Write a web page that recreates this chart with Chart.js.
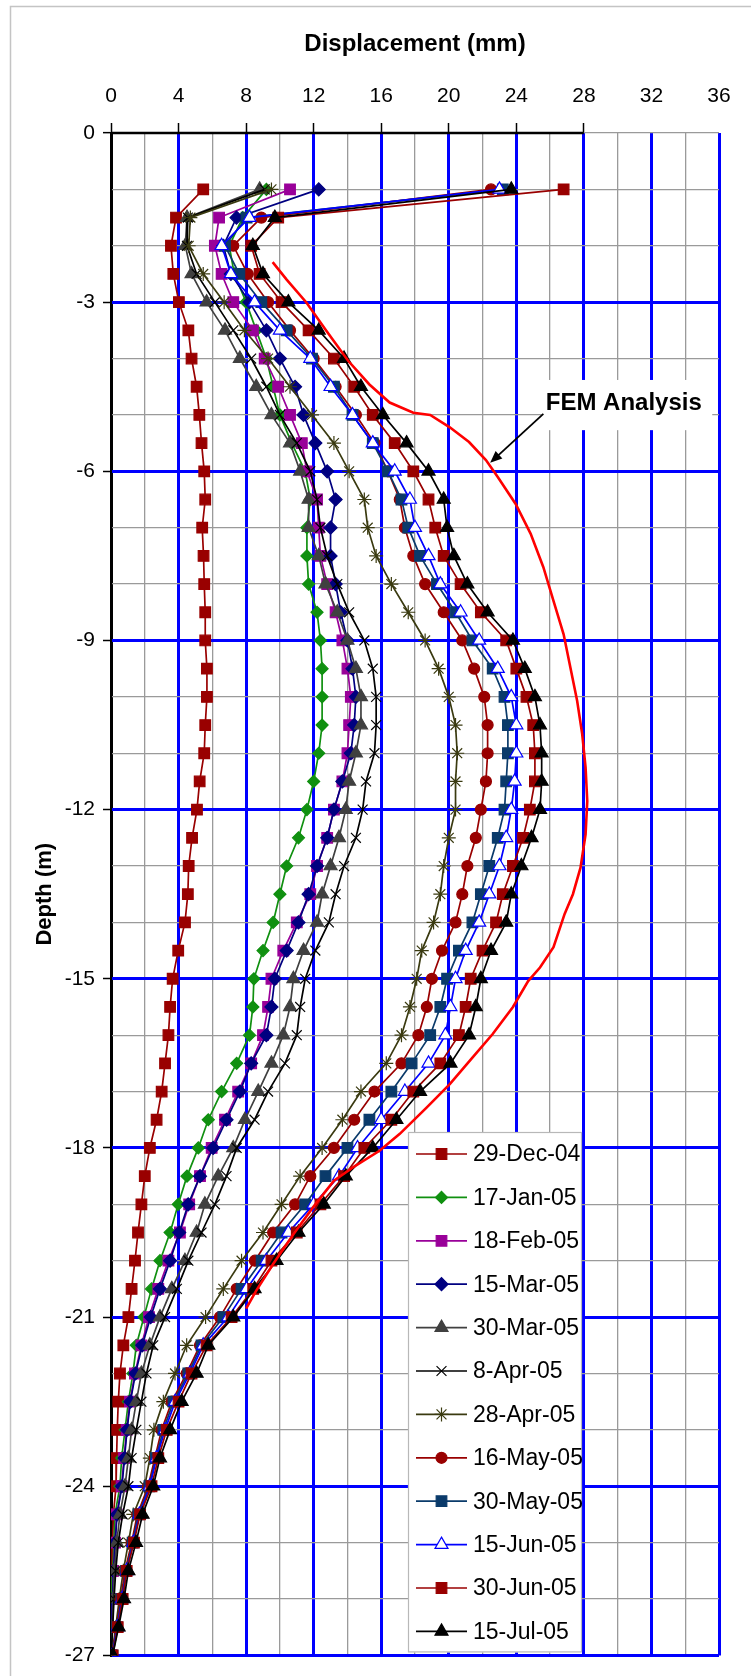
<!DOCTYPE html>
<html><head><meta charset="utf-8">
<script src="https://cdn.jsdelivr.net/npm/chart.js@4.4.1/dist/chart.umd.min.js"></script>
<style>
html,body{margin:0;padding:0;background:#fff;}
canvas{display:block;}
</style></head><body>
<canvas id="c" width="751" height="1676"></canvas>
<script>
// ---------- DATA ----------
const depths = [-1,-1.5,-2,-2.5,-3,-3.5,-4,-4.5,-5,-5.5,-6,-6.5,-7,-7.5,-8,-8.5,-9,-9.5,-10,-10.5,
  -11,-11.5,-12,-12.5,-13,-13.5,-14,-14.5,-15,-15.5,-16,-16.5,-17,-17.5,-18,-18.5,-19,-19.5,-20,-20.5,
  -21,-21.5,-22,-22.5,-23,-23.5,-24,-24.5,-25,-25.5,-26,-26.5,-27];

const dec29 = [5.46,3.85,3.55,3.69,4.02,4.58,4.77,5.07,5.23,5.36, 5.52,5.58,5.40,5.48,5.52,5.58,5.58,5.68,5.68,5.58,
  5.52,5.25,5.09,4.80,4.60,4.55,4.38,3.98,3.65,3.50, 3.40,3.20,3.00,2.70,2.30,2.00,1.80,1.60,1.42,1.22,
  1.03,0.73,0.53,0.43,0.37,0.33,0.30,0.14,0.10,0.06, 0.04,0.02,0.00];
const jan17 = [9.20,7.80,7.00,7.30,8.00,8.60,9.20,9.60,10.0,10.7, 11.5,11.8,11.6,11.6,11.7,12.2,12.4,12.5,12.5,12.5,
  12.3,12.0,11.6,11.1,10.4,10.0,9.60,9.00,8.46,8.40, 8.20,7.44,6.55,5.76,5.17,4.50,3.98,3.50,2.90,2.40,
  1.95,1.50,1.30,1.03,0.83,0.63,0.53,0.24,0.18,0.10, 0.06,0.04,0.00];
const feb18 = [10.6,6.40,6.15,6.55,7.24,8.40,9.10,9.90,10.6,11.3, 11.6,12.2,12.3,12.4,12.8,13.3,13.7,14.0,14.2,14.1,
  14.0,13.7,13.2,12.8,12.2,11.8,11.0,10.2,9.50,9.30, 9.00,8.30,7.53,6.75,5.96,5.27,4.63,4.08,3.40,2.80,
  2.25,1.80,1.42,1.12,0.93,0.77,0.63,0.34,0.24,0.14, 0.10,0.06,0.00];
const mar15 = [12.3,7.43,6.65,7.10,8.20,9.20,10.0,10.9,11.4,12.1, 12.8,13.3,13.0,13.0,13.3,13.6,14.0,14.3,14.5,14.4,
  14.2,13.7,13.2,12.8,12.2,11.7,11.1,10.4,9.70,9.50, 9.20,8.30,7.63,6.84,6.05,5.27,4.57,4.04,3.50,2.90,
  2.35,1.85,1.45,1.15,0.95,0.80,0.65,0.36,0.25,0.15, 0.10,0.06,0.00];
const mar30 = [8.80,4.50,4.40,4.77,5.66,6.75,7.63,8.60,9.50,10.6, 11.2,11.7,11.7,12.3,12.7,13.4,14.0,14.5,14.8,14.8,
  14.5,14.1,13.9,13.5,13.0,12.5,12.2,11.4,10.8,10.6, 10.2,9.50,8.72,7.93,7.24,6.35,5.56,5.07,4.38,3.60,
  2.90,2.30,1.80,1.50,1.22,1.03,0.83,0.53,0.34,0.20, 0.14,0.08,0.00];
const apr8 = [9.10,4.55,4.50,5.07,6.15,7.24,8.30,9.20,10.0,11.0, 11.8,12.2,12.4,12.8,13.4,14.1,15.0,15.5,15.7,15.7,
  15.6,15.1,14.9,14.5,13.8,13.3,12.9,12.1,11.5,11.2, 11.0,10.3,9.30,8.50,7.44,6.84,6.15,5.36,4.58,3.90,
  3.20,2.50,2.10,1.80,1.50,1.22,1.03,0.69,0.43,0.28, 0.18,0.10,0.00];
const apr28 = [9.50,4.70,4.60,5.46,6.70,7.90,9.30,10.6,11.9,13.2, 14.1,15.0,15.2,15.7,16.6,17.6,18.6,19.4,20.0,20.4,
  20.5,20.4,20.4,20.0,19.7,19.5,19.1,18.4,18.1,17.7, 17.2,16.3,14.8,13.7,12.5,11.2,10.1,9.00,7.73,6.65,
  5.60,4.48,3.79,3.10,2.54,2.30,2.00,1.32,1.03,0.73, 0.49,0.28,0.05];
const may16 = [22.5,8.90,7.24,8.10,9.30,10.6,12.0,13.3,14.5,15.6, 16.4,17.1,17.4,17.9,18.6,19.7,20.8,21.5,22.1,22.3,
  22.3,22.2,21.9,21.6,21.1,20.8,20.4,19.6,19.0,18.7, 18.2,17.2,15.6,14.4,13.2,11.8,10.9,9.60,8.52,7.44,
  6.45,5.27,4.48,3.60,3.00,2.60,2.20,1.56,1.22,0.83, 0.57,0.33,0.05];
const may30 = [23.2,8.03,6.75,7.60,8.90,10.4,11.9,13.2,14.3,15.5, 16.4,17.2,17.6,18.3,19.3,20.4,21.4,22.6,23.3,23.5,
  23.5,23.4,23.3,22.9,22.4,21.9,21.4,20.6,19.9,19.5, 18.9,17.8,16.6,15.3,14.0,12.7,11.5,10.1,8.92,7.73,
  6.65,5.36,4.58,3.70,3.10,2.66,2.27,1.62,1.28,0.89, 0.63,0.35,0.08];
const jun15 = [23.0,8.20,6.55,7.10,8.50,10.0,11.8,13.0,14.3,15.5, 16.8,17.7,18.0,18.8,19.5,20.7,21.8,22.9,23.7,24.0,
  24.0,23.9,23.7,23.4,23.0,22.4,21.8,21.0,20.4,20.1, 19.8,18.8,17.4,16.0,14.6,13.5,12.0,10.5,9.20,8.03,
  6.94,5.46,4.67,3.80,3.20,2.70,2.30,1.68,1.32,0.93, 0.65,0.37,0.08];
const jun30 = [26.8,9.90,8.30,8.80,10.1,11.7,13.2,14.4,15.5,16.8, 17.9,18.8,19.2,19.7,20.7,21.9,23.4,24.0,24.6,25.0,
  25.1,25.1,24.8,24.4,23.8,23.2,22.8,22.0,21.3,21.0, 20.6,19.5,17.9,16.6,15.0,13.8,12.4,11.0,9.50,8.42,
  7.14,5.66,4.77,4.00,3.30,2.80,2.40,1.72,1.36,0.93, 0.69,0.40,0.10];
const jul15 = [23.7,9.70,8.40,9.00,10.5,12.3,13.8,14.8,16.1,17.5, 18.8,19.7,19.9,20.3,21.1,22.3,23.8,24.5,25.1,25.4,
  25.5,25.5,25.4,24.9,24.3,23.7,23.4,22.5,21.9,21.6, 21.2,20.1,18.3,16.9,15.5,13.9,12.6,11.1,9.80,8.50,
  7.24,5.76,5.07,4.18,3.50,2.90,2.50,1.87,1.48,1.03, 0.77,0.45,0.10];

const femDisp  = [9.57,10.4,11.58,12.76,14.04,15.3,16.5,17.9,18.9,20.06,21.2,22.2,22.9,23.96,24.85,25.6,26.2,26.8,27.2,27.6,
  27.9,28.1,28.2,28.1,27.8,27.35,26.86,26.2,25.4,24.7,23.8,22.6,21.4,20.06,18.7,17.1,15.9,14.3,13.2,11.97,10.8,9.6,8.6,8.0];
const femDepth = [-2.29,-2.6,-3.01,-3.51,-4.04,-4.46,-4.78,-4.96,-5.0,-5.22,-5.48,-5.8,-6.1,-6.58,-7.11,-7.7,-8.3,-8.89,-9.48,-10.07,
  -10.66,-11.25,-11.85,-12.44,-13.03,-13.5,-13.85,-14.44,-14.8,-15.04,-15.5,-15.98,-16.4,-16.87,-17.28,-17.75,-18.05,-18.35,-18.58,-19.05,-19.53,-20.06,-20.53,-20.85];

const seriesLabels = ['29-Dec-04','17-Jan-05','18-Feb-05','15-Mar-05','30-Mar-05','8-Apr-05','28-Apr-05','16-May-05','30-May-05','15-Jun-05','30-Jun-05','15-Jul-05'];
const seriesValues = [dec29,jan17,feb18,mar15,mar30,apr8,apr28,may16,may30,jun15,jun30,jul15];
const xTicks = [0,4,8,12,16,20,24,28,32,36];
const yTicks = [0,-3,-6,-9,-12,-15,-18,-21,-24,-27];

// ---------- STYLES ----------
const FONT = "'Liberation Sans', Arial, sans-serif";
const seriesStyles = [
  {line:'#990000', fill:'#990000', style:'rect', r:7.5},
  {line:'#109010', fill:'#109010', style:'rectRot', r:6},
  {line:'#990099', fill:'#990099', style:'rect', r:7.5},
  {line:'#000080', fill:'#000080', style:'rectRot', r:6.5},
  {line:'#404040', fill:'#404040', style:'triangle', r:7.5},
  {line:'#000000', fill:'#000000', style:'crossRot', r:7},
  {line:'#3a3a10', fill:'#3a3a10', style:'star', r:7},
  {line:'#990000', fill:'#990000', style:'circle', r:5.5},
  {line:'#0a3a6a', fill:'#0a3a6a', style:'rect', r:7.5},
  {line:'#0000ff', fill:'#ffffff', style:'triangle', r:7.5},
  {line:'#990000', fill:'#990000', style:'rect', r:7.5},
  {line:'#000000', fill:'#000000', style:'triangle', r:7.5}
];
const femNote = {text:'FEM Analysis', x:25.74, y:-4.80, tailX:25.6, tailY:-4.98, tipX:22.45, tipY:-5.85,
  boxX0:25.5, boxX1:35.6, boxY0:-4.38, boxY1:-5.27};

Chart.defaults.font.family = FONT;

const datasets = seriesLabels.map((lab,i)=>{
  const st = seriesStyles[i];
  return {
    label: lab,
    data: depths.map((d,j)=>({x: seriesValues[i][j], y: d})),
    showLine: true,
    borderColor: st.line,
    backgroundColor: st.fill,
    borderWidth: 1.7,
    pointStyle: st.style,
    pointRadius: st.r,
    pointBorderColor: st.line,
    pointBackgroundColor: st.fill,
    pointBorderWidth: 1.2,
    tension: 0,
    order: 12 - i
  };
});
datasets.push({
  label: 'FEM Analysis',
  data: femDepth.map((d,j)=>({x: femDisp[j], y: d})),
  showLine: true, borderColor:'#ff0000', borderWidth: 2.6, pointRadius: 0, tension: 0, order: 0
});

const framePlugin = {
  id:'frame',
  beforeDatasetsDraw(chart){
    const {ctx, scales:{x,y}} = chart;
    ctx.save();
    ctx.strokeStyle = '#000'; ctx.lineWidth = 2.5;
    ctx.beginPath();
    ctx.moveTo(x.getPixelForValue(0), y.getPixelForValue(0));
    ctx.lineTo(x.getPixelForValue(28), y.getPixelForValue(0));
    ctx.stroke();
    ctx.restore();
  },
  afterDraw(chart){
    const {ctx, scales:{x,y}} = chart;
    ctx.save();
    ctx.strokeStyle = '#c4c4c4'; ctx.lineWidth = 1.5;
    ctx.beginPath(); ctx.moveTo(10.5, 1676); ctx.lineTo(10.5, 6.5); ctx.lineTo(751, 6.5); ctx.stroke();

    const bx0 = x.getPixelForValue(femNote.boxX0), bx1 = x.getPixelForValue(femNote.boxX1);
    const by0 = y.getPixelForValue(femNote.boxY0), by1 = y.getPixelForValue(femNote.boxY1);
    ctx.fillStyle = '#fff'; ctx.fillRect(bx0, by0, bx1-bx0, by1-by0);
    ctx.fillStyle = '#000';
    ctx.font = "bold 24px " + FONT; ctx.textBaseline = 'middle'; ctx.textAlign = 'left';
    ctx.fillText(femNote.text, x.getPixelForValue(femNote.x), y.getPixelForValue(femNote.y));
    const tx = x.getPixelForValue(femNote.tailX), ty = y.getPixelForValue(femNote.tailY);
    const hx = x.getPixelForValue(femNote.tipX), hy = y.getPixelForValue(femNote.tipY);
    const ang = Math.atan2(hy-ty, hx-tx);
    ctx.strokeStyle = '#000'; ctx.lineWidth = 1.8;
    ctx.beginPath(); ctx.moveTo(tx,ty); ctx.lineTo(hx - 8*Math.cos(ang), hy - 8*Math.sin(ang)); ctx.stroke();
    ctx.beginPath();
    ctx.moveTo(hx,hy);
    ctx.lineTo(hx - 12*Math.cos(ang) + 5*Math.sin(ang), hy - 12*Math.sin(ang) - 5*Math.cos(ang));
    ctx.lineTo(hx - 12*Math.cos(ang) - 5*Math.sin(ang), hy - 12*Math.sin(ang) + 5*Math.cos(ang));
    ctx.closePath(); ctx.fill();

    const ca = chart.chartArea;
    const L = ca.left + 297, T = ca.top + 999, R = ca.left + 471, B = ca.bottom - 3;
    ctx.fillStyle = '#fff'; ctx.fillRect(L, T, R-L, B-T);
    ctx.strokeStyle = '#b8b8b8'; ctx.lineWidth = 1.2; ctx.strokeRect(L+0.5, T+0.5, R-L-1, B-T-1);
    ctx.font = "23px " + FONT; ctx.textBaseline = 'middle'; ctx.textAlign = 'left';
    seriesLabels.forEach((lab,i)=>{
      const st = seriesStyles[i];
      const cy = T + 22 + i*43.4;
      ctx.strokeStyle = st.line; ctx.lineWidth = 1.7;
      ctx.beginPath(); ctx.moveTo(L+8, cy); ctx.lineTo(L+59, cy); ctx.stroke();
      ctx.fillStyle = st.fill; ctx.strokeStyle = st.line; ctx.lineWidth = 1.2;
      Chart.helpers.drawPoint(ctx, {pointStyle: st.style, radius: st.r, rotation: 0, borderWidth: 1.2}, L+33.5, cy);
      ctx.fillStyle = '#000';
      ctx.fillText(lab, L+65, cy+1);
    });
    ctx.restore();
  }
};

new Chart(document.getElementById('c'), {
  type: 'scatter',
  data: { datasets },
  options: {
    responsive: false, animation: false, devicePixelRatio: 1,
    layout: { padding: {left:0, right:32, top:0, bottom:20} },
    plugins: { legend: {display:false}, tooltip: {enabled:false}, title: {display:false} },
    scales: {
      x: {
        type: 'linear', position: 'top', min: 0, max: 36,
        afterFit(s){ s.height = 133; },
        afterBuildTicks(s){ const t=[]; for (let v=0; v<=36; v+=2) t.push({value:v}); s.ticks = t; },
        ticks: { autoSkip:false, maxRotation:0, padding:14, color:'#000', font:{size:21},
          callback: v => xTicks.includes(v) ? String(v) : '' },
        grid: {
          color: c => { const v = c.tick.value; return v === 0 ? '#000' : (v % 4 === 0 ? '#0000ff' : '#9a9a9a'); },
          lineWidth: c => (c.tick.value % 4 === 0 ? 3 : 1.3),
          drawTicks: true, tickLength: 10, tickWidth: 1.5,
          tickColor: c => (c.tick.value % 4 === 0 && c.tick.value <= 28) ? '#000' : 'rgba(0,0,0,0)'
        },
        border: { display: false },
        title: { display: true, text: 'Displacement (mm)', color:'#000', font:{size:24, weight:'bold'}, padding:{top:30, bottom:0} }
      },
      y: {
        type: 'linear', min: -27, max: 0,
        afterFit(s){ s.width = 111; },
        afterBuildTicks(s){ const t=[]; for (let v=-27; v<=0; v+=1) t.push({value:v}); s.ticks = t; },
        ticks: { autoSkip:false, padding:8, color:'#000', font:{size:21},
          callback: v => yTicks.includes(v) ? String(v) : '' },
        grid: {
          color: c => { const v = c.tick.value; return (v !== 0 && v % 3 === 0) ? '#0000ff' : '#9a9a9a'; },
          lineWidth: c => { const v = c.tick.value; return (v !== 0 && v % 3 === 0) ? 3 : 1.3; },
          drawTicks: true, tickLength: 8, tickWidth: 1.5,
          tickColor: c => (c.tick.value % 3 === 0) ? '#000' : 'rgba(0,0,0,0)'
        },
        border: { display: true, color:'#000', width: 2 },
        title: { display: true, text: 'Depth (m)', color:'#000', font:{size:22, weight:'bold'}, padding:{top:32, bottom:0} }
      }
    }
  },
  plugins: [framePlugin]
});
</script>
</body></html>
